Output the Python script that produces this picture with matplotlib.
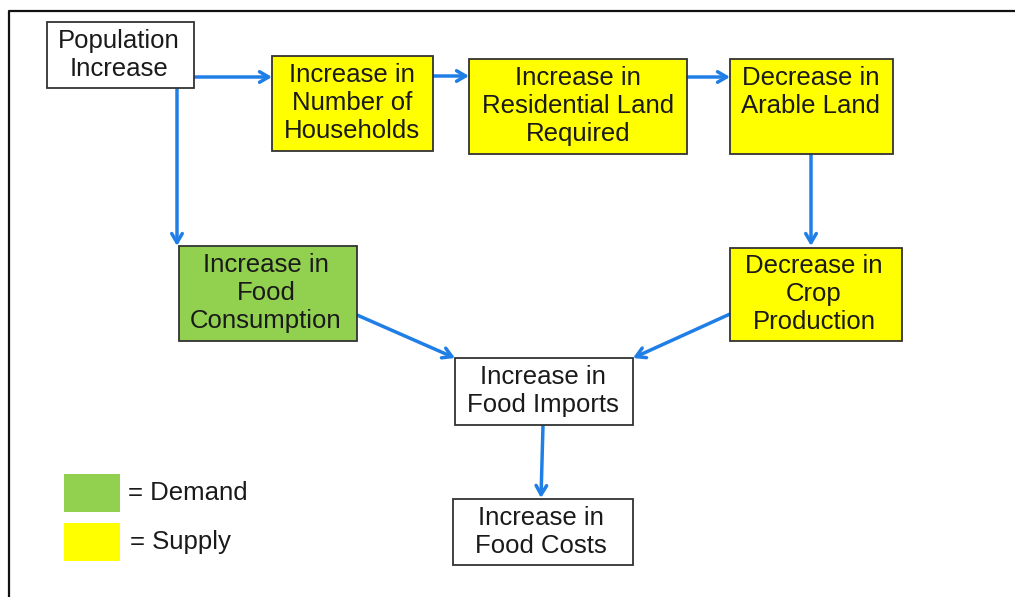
import matplotlib.pyplot as plt
from matplotlib.patches import Rectangle

# node labels and fill colours
labels = [
    'Population\nIncrease',
    'Increase in\nNumber of\nHouseholds',
    'Increase in\nResidential Land\nRequired',
    'Decrease in\nArable Land',
    'Increase in\nFood\nConsumption',
    'Decrease in\nCrop\nProduction',
    'Increase in\nFood Imports',
    'Increase in\nFood Costs',
]
fills = ['white', '#FFFF00', '#FFFF00', '#FFFF00',
         '#92D050', '#FFFF00', 'white', 'white']

# edges between nodes (index pairs)
edges = [(0, 1), (0, 4), (1, 2), (2, 3), (3, 5), (4, 6), (5, 6), (6, 7)]

legend_labels = ['= Demand', '= Supply']
legend_colors = ['#92D050', '#FFFF00']

# layout in pixels: x0, y0, x1, y1 and text centre
boxes = [
    (47, 22, 194, 88),
    (272, 56, 433, 151),
    (469, 59, 687, 154),
    (730, 59, 893, 154),
    (179, 246, 357, 341),
    (730, 248, 902, 341),
    (455, 358, 633, 425),
    (453, 499, 633, 565),
]
text_pos = [(119, 55), (352, 103), (578, 106), (811, 92),
            (266, 293), (814, 294), (543, 391), (541, 532)]
arrow_pts = [
    ((194, 77), (272, 77)),
    ((177, 88), (177, 246)),
    ((433, 76), (469, 76)),
    ((687, 77), (730, 77)),
    ((811, 154), (811, 246)),
    ((357, 315), (455, 358)),
    ((730, 314), (633, 358)),
    ((543, 425), (541, 498)),
]

fig = plt.figure(figsize=(10.15, 5.97), dpi=100)
ax = fig.add_axes([0, 0, 1, 1])
ax.set_xlim(0, 1015)
ax.set_ylim(597, 0)
ax.axis('off')

font = 'Liberation Sans'
blue = '#1F7FE6'
fs = 18.5

# outer frame (only left and top visible)
ax.plot([9.5, 9.5, 1015], [597, 10.5, 10.5], color='#111111', lw=1.6)

for (x0, y0, x1, y1), fc, lab, (tx, ty) in zip(boxes, fills, labels, text_pos):
    ax.add_patch(Rectangle((x0, y0), x1 - x0, y1 - y0, facecolor=fc,
                           edgecolor='#333333', lw=1.3, zorder=2))
    ax.text(tx, ty, lab, ha='center', va='center', fontsize=fs,
            family=font, color='#1a1a1a', linespacing=1.2, zorder=3)

for (i, j), (p0, p1) in zip(edges, arrow_pts):
    ax.annotate('', xy=p1, xytext=p0,
                arrowprops=dict(arrowstyle='->,head_length=0.65,head_width=0.38',
                                color=blue, lw=2.5, shrinkA=0, shrinkB=0),
                zorder=1)

# legend
for k, (lab, c) in enumerate(zip(legend_labels, legend_colors)):
    y0 = 474 + k * 49
    ax.add_patch(Rectangle((64, y0), 56, 38, facecolor=c, edgecolor='none'))
    ax.text(128 + k * 2, y0 + 19, lab, ha='left', va='center', fontsize=fs,
            family=font, color='#1a1a1a')

fig.savefig('out.png', dpi=100)
